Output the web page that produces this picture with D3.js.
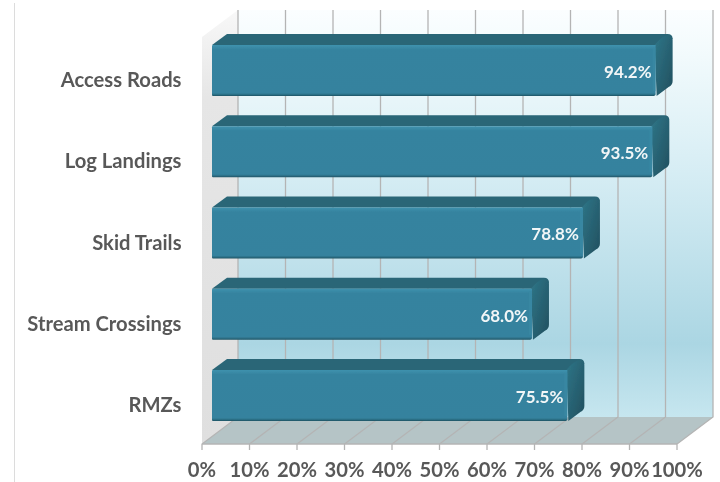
<!DOCTYPE html>
<html><head><meta charset="utf-8">
<script src="https://cdnjs.cloudflare.com/ajax/libs/d3/7.8.5/d3.min.js"></script>
<style>html,body{margin:0;padding:0;background:#fff}svg{display:block}text{font-family:Lato,"Open Sans",sans-serif;font-weight:700}</style>
</head><body><svg id="c" width="720" height="482"></svg>
<script>
const categories = ["Access Roads","Log Landings","Skid Trails","Stream Crossings","RMZs"];
const values = [94.2,93.5,78.8,68.0,75.5];
const tickValues = [0,10,20,30,40,50,60,70,80,90,100];
const tickLabels = tickValues.map(d=>d+"%");

const svgRoot=d3.select("#c");
const defs=svgRoot.append("defs");
defs.append("filter").attr("id","soft").attr("x",0).attr("y",0).attr("width",1).attr("height",1)
  .append("feGaussianBlur").attr("stdDeviation",0.4);
const svg=svgRoot.append("g").attr("filter","url(#soft)");
svg.append("rect").attr("width",720).attr("height",482).attr("fill","#fff");
function grad(id,stops,x2=0,y2=1){
  const g=defs.append("linearGradient").attr("id",id).attr("x1",0).attr("y1",0).attr("x2",x2).attr("y2",y2);
  stops.forEach(s=>g.append("stop").attr("offset",s[0]).attr("stop-color",s[1]));
}
grad("wall",[[0,"#fbfeff"],[0.12,"#f1fafc"],[0.4,"#d6edf4"],[0.82,"#abd6e3"],[1,"#c6e6ef"]]);
grad("side",[[0,"#f8f8f8"],[0.2,"#e6e6e6"],[1,"#dfdfdf"]]);
grad("face",[[0,"#3f92ae"],[0.09,"#35839f"],[0.94,"#35829e"],[0.97,"#2c6f86"],[1,"#1f5262"]]);
grad("end",[[0,"#2f7688"],[1,"#214f5e"]],1,1);

const x=d3.scaleLinear().domain([0,100]).range([202,677]);
const barX=d3.scaleLinear().domain([0,100]).range([212,684]);
const y=d3.scaleBand().domain(categories).range([29.9,436.1]).paddingInner(0.372).paddingOuter(0.186);
const dx=36, dy=-27, floorY=444, topY=37;
const bdx=15, bdy=-11;

svg.append("line").attr("x1",14.5).attr("x2",14.5).attr("y1",3).attr("y2",482).attr("stroke","#dcdcdc").attr("stroke-width",1);

svg.append("path").attr("fill","url(#wall)").attr("d",`M${x(0)+dx},${topY+dy}H${x(100)+dx}V${floorY+dy}H${x(0)+dx}Z`);
svg.append("path").attr("fill","url(#side)").attr("d",`M${x(0)},${topY}L${x(0)+dx},${topY+dy}V${floorY+dy}L${x(0)},${floorY}Z`);
svg.append("path").attr("fill","#b5c4c6").attr("d",`M${x(0)},${floorY}L${x(0)+dx},${floorY+dy}H${x(100)+dx}L${x(100)},${floorY}Z`);

const grid=svg.append("g").attr("fill","none").attr("stroke","#b4b4b4").attr("stroke-width",1.3);
grid.selectAll("path").data(tickValues).join("path")
  .attr("d",d=>`M${x(d)},${floorY+6}V${floorY}L${x(d)+dx},${floorY+dy}V${topY+dy}`);
grid.append("path").attr("d",`M${x(0)},${floorY}H${x(100)}`);

const bars=svg.append("g").selectAll("g").data(categories).join("g");
bars.each(function(c,i){
  const g=d3.select(this), L=barX(0), R=barX(values[i]), T=y(c), B=T+y.bandwidth();
  const BR=R+bdx+1;
  g.append("path").attr("fill","#2a6677")
    .attr("d",`M${L},${T}L${L+bdx},${T+bdy}H${BR-5}Q${BR},${T+bdy} ${BR},${T+bdy+5}L${R},${T}Z`);
  g.append("path").attr("fill","url(#end)")
    .attr("d",`M${R-2},${T}Q${R+5},${T-9} ${BR-4},${T+bdy+1}Q${BR},${T+bdy+2} ${BR},${T+bdy+6}V${B+bdy-4}Q${BR},${B+bdy} ${BR-4},${B+bdy+2}L${R},${B}Z`);
  g.append("path").attr("fill","url(#face)")
    .attr("d",`M${L+1},${T}H${R-1}V${B-2}Q${R-1},${B} ${R-4},${B}H${L+1}Q${L},${B} ${L},${B-1}V${T+1}Q${L},${T} ${L+1},${T}Z`);
  g.append("path").attr("fill","none").attr("stroke","#3a89a4").attr("stroke-width",3).attr("stroke-opacity",0.7)
    .attr("d",`M${R-2.5},${T+3}V${B-5}`);
  g.append("text").attr("x",R-5).attr("y",T+33).attr("text-anchor","end")
    .attr("font-size",17).attr("fill","#f2f6f7").text(values[i].toFixed(1)+"%");
});

svg.append("g").selectAll("text").data(categories).join("text")
  .attr("x",181.5).attr("y",c=>y(c)+y.bandwidth()/2+16.5).attr("text-anchor","end")
  .attr("font-size",20.2).attr("fill","#595959").text(d=>d);
svg.append("g").selectAll("text").data(tickValues).join("text")
  .attr("x",d=>x(d)).attr("y",477).attr("text-anchor","middle")
  .attr("font-size",20.2).attr("fill","#595959").text((d,i)=>tickLabels[i]);
</script></body></html>
